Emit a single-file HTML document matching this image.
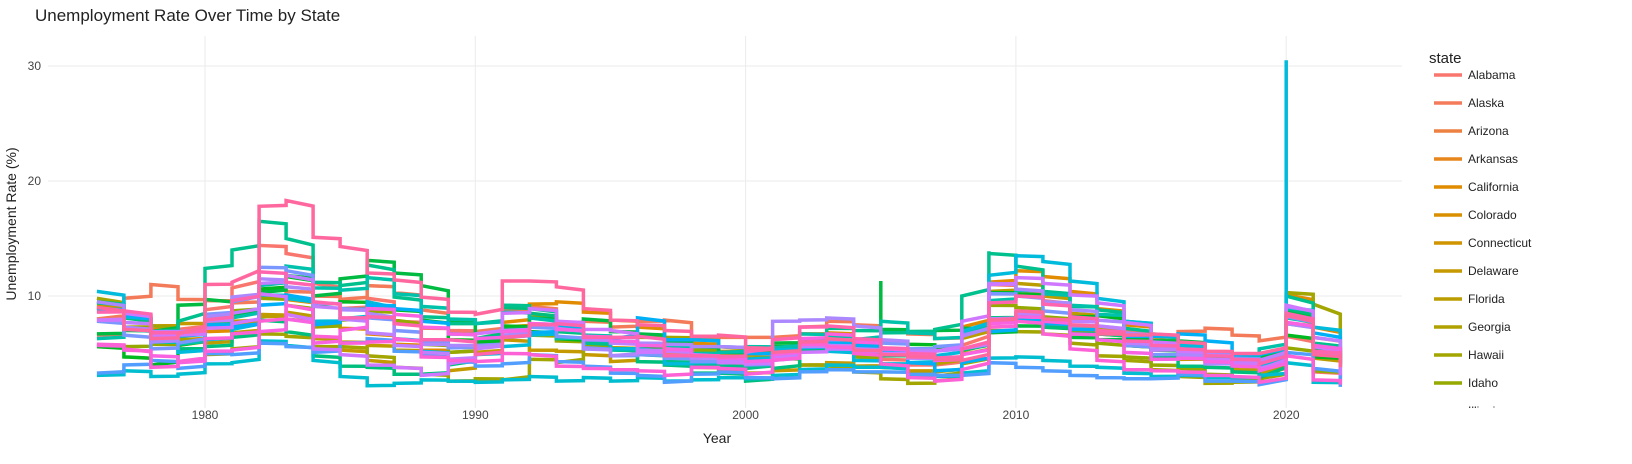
<!DOCTYPE html>
<html><head><meta charset="utf-8"><style>
body{margin:0;background:#fff;font-family:"Liberation Sans",sans-serif;}
#wrap{position:relative;width:1632px;height:464px;overflow:hidden;}
svg{position:absolute;left:0;top:0;}
</style></head><body>
<div id="wrap">
<svg id="chart" width="1632" height="464"></svg>
</div>
<script>
const states = ["Alabama","Alaska","Arizona","Arkansas","California","Colorado","Connecticut","Delaware","Florida","Georgia","Hawaii","Idaho","Illinois","Indiana","Iowa","Kansas","Kentucky","Louisiana","Maine","Maryland","Massachusetts","Michigan","Minnesota","Mississippi","Missouri","Montana","Nebraska","Nevada","New Hampshire","New Jersey","New Mexico","New York","North Carolina","North Dakota","Ohio","Oklahoma","Oregon","Pennsylvania","Rhode Island","South Carolina","South Dakota","Tennessee","Texas","Utah","Vermont","Virginia","Washington","West Virginia","Wisconsin","Wyoming"];
const startYear = 1976;
const xTicks = [1980,1990,2000,2010,2020];
const yTicks = [10,20,30];
const seriesNames = ["Alabama","Alaska","California","Delaware","Florida","Hawaii","Idaho","Kentucky","Louisiana","Massachusetts","Michigan","Mississippi","Nebraska","Nevada","New Mexico","North Dakota","Ohio","Oregon","Pennsylvania","Rhode Island","Texas","Utah","Washington","West Virginia"];
const vAlabama=[6.6,7.2,6.3,7.1,8.8,10.7,14.4,13.7,11.1,8.9,9.8,7.8,7.2,7.0,6.8,7.2,7.3,7.5,6.0,5.5,5.1,5.0,4.4,4.8,4.6,5.1,5.9,6.0,5.7,4.5,4.0,4.0,5.7,11.0,10.5,9.6,8.0,7.2,6.8,6.1,5.8,4.4,3.9,3.2,6.5,3.4,2.6];
const vAlaska=[8.0,9.8,11.0,9.7,9.6,9.4,9.9,10.4,10.0,9.7,10.9,10.3,8.8,6.7,6.9,8.7,9.1,7.7,7.8,7.3,7.8,7.9,6.4,6.4,6.4,6.4,7.3,7.8,7.5,6.9,6.7,6.3,6.7,7.7,7.9,7.6,7.1,6.9,6.9,6.5,6.9,7.2,6.6,6.1,8.3,6.4,4.2];
const vCalifornia=[9.2,8.2,7.1,6.2,6.9,7.4,9.9,9.7,7.8,7.2,6.7,5.8,5.3,5.1,5.8,7.7,9.3,9.5,8.6,7.9,7.3,6.3,5.9,5.2,4.9,5.4,6.7,6.8,6.2,5.4,4.9,5.4,7.3,11.2,12.2,11.7,10.4,8.9,7.5,6.2,5.5,4.8,4.3,4.1,10.1,7.3,4.2];
const vDelaware=[8.7,8.4,7.4,7.6,7.7,7.8,8.4,8.0,6.4,5.3,4.4,3.2,3.2,3.5,5.1,6.2,5.3,5.2,4.9,4.3,5.0,4.0,3.8,3.5,3.3,3.5,4.0,4.2,3.9,4.1,3.5,3.4,4.9,8.0,8.4,7.5,7.2,6.7,5.7,4.8,4.5,4.6,3.9,3.8,7.6,5.4,4.5];
const vFlorida=[9.0,8.2,6.6,6.0,5.9,6.8,8.2,8.6,6.3,6.0,5.7,5.3,5.0,5.6,5.9,7.3,8.2,7.0,6.6,5.5,5.1,4.8,4.3,3.9,3.8,4.7,5.7,5.3,4.8,3.8,3.2,4.1,6.3,10.4,11.1,10.0,8.5,7.3,6.4,5.5,4.9,4.2,3.6,3.2,8.2,4.6,2.9];
const vHawaii=[9.8,7.3,7.4,6.3,4.9,5.4,6.7,6.5,5.6,5.6,4.8,3.8,3.2,2.6,2.8,2.7,4.5,4.2,6.1,5.9,6.4,6.4,6.2,5.6,4.3,4.6,4.0,3.9,3.4,2.8,2.4,2.6,4.1,7.0,6.9,6.7,5.9,4.8,4.4,3.6,3.0,2.4,2.5,2.7,10.3,9.3,3.5];
const vIdaho=[5.7,5.6,5.8,5.7,7.9,8.7,9.8,9.2,7.3,7.9,8.7,7.9,5.8,5.1,5.9,6.6,6.6,6.1,5.6,5.4,5.2,5.3,5.3,5.1,4.6,4.9,5.7,5.4,4.7,3.8,3.2,3.0,5.2,9.2,9.0,8.2,7.0,5.9,4.7,4.0,3.7,3.2,2.8,2.8,5.5,3.5,2.7];
const vKentucky=[5.6,4.7,4.0,5.7,8.1,8.5,10.6,11.7,9.3,9.5,9.2,8.8,7.9,6.2,5.9,7.4,6.9,6.3,5.4,5.4,5.6,5.4,4.6,4.5,4.2,5.6,5.7,6.2,5.3,6.1,5.8,5.5,6.6,10.3,10.2,9.5,8.2,8.3,6.4,5.3,4.9,4.9,4.3,4.2,6.6,4.7,3.9];
const vLouisiana=[6.7,7.0,6.9,9.2,9.7,8.3,10.3,11.8,10.0,11.5,13.1,12.0,10.9,7.9,6.2,7.1,8.1,7.4,8.0,6.9,6.7,6.1,5.6,5.1,5.0,5.9,6.1,6.6,5.7,7.1,6.9,7.0,7.2,6.8,7.4,7.3,6.4,6.2,6.3,6.1,6.1,5.1,4.9,4.6,8.7,5.5,3.7];
const vMassachusetts=[9.5,8.1,6.1,5.4,5.6,6.4,7.9,6.9,4.8,3.9,3.8,3.2,3.2,4.0,6.3,9.0,8.5,6.9,6.0,5.4,4.3,4.0,3.3,3.3,2.6,3.7,5.3,5.8,5.2,4.8,4.8,4.5,5.3,8.1,8.3,7.3,6.7,6.7,5.7,4.8,3.9,3.8,3.4,2.9,8.9,5.7,3.7];
const vMichigan=[9.4,8.2,6.9,7.8,12.4,14.0,16.5,15.0,11.2,10.9,12.7,9.9,8.2,7.6,7.6,9.2,8.9,7.0,5.9,5.3,4.9,4.3,4.0,3.9,3.7,5.2,6.2,7.2,7.0,6.8,6.9,7.1,10.0,13.7,12.6,10.4,9.1,8.8,7.2,5.4,5.0,4.6,4.1,4.1,10.0,5.9,4.2];
const vMississippi=[6.3,7.1,6.0,5.8,7.5,8.1,10.9,12.6,10.7,10.5,11.6,10.2,9.1,8.0,7.6,8.6,8.1,6.3,6.6,6.1,5.7,5.7,5.0,5.1,5.6,5.5,6.7,6.4,6.2,7.8,6.8,6.3,6.9,9.6,10.5,10.2,9.2,8.4,7.8,6.5,5.8,5.1,4.7,5.4,8.1,5.7,4.0];
const vNebraska=[3.1,3.5,3.0,3.2,4.1,4.2,6.1,5.7,4.4,3.0,2.2,2.4,2.7,2.6,2.5,2.7,3.0,2.6,2.9,2.6,2.9,2.6,2.7,2.9,2.8,3.1,3.6,4.0,3.8,3.8,3.0,3.0,3.3,4.6,4.7,4.4,3.9,3.8,3.3,3.0,3.1,2.9,2.9,3.1,4.2,2.5,2.3];
const vNevada=[10.4,8.2,6.9,5.1,6.2,7.1,10.1,9.8,7.8,8.0,9.5,6.3,5.2,4.2,4.9,5.6,6.6,7.2,6.2,5.4,5.4,4.1,4.2,4.3,4.5,5.3,5.7,5.2,4.4,4.1,4.2,4.8,6.9,11.8,13.5,13.0,11.3,9.8,7.8,6.7,5.7,4.9,4.5,3.9,9.0,7.3,5.4];
const vNewMexico=[8.9,8.3,6.3,6.5,7.5,7.3,9.2,10.1,7.5,8.8,9.2,8.9,7.8,6.7,6.3,7.0,6.8,7.5,6.3,6.3,8.1,6.2,6.2,5.6,5.0,4.8,5.5,5.9,5.7,5.2,4.2,3.5,4.2,6.9,7.9,7.6,7.1,6.9,6.5,6.5,6.7,6.1,4.9,4.9,8.2,6.8,4.2];
const vNorthDakota=[3.3,4.0,4.4,3.7,5.0,4.9,5.9,5.6,5.1,5.9,6.3,5.2,4.8,4.3,3.9,4.1,4.9,4.3,3.9,3.3,3.1,2.5,3.2,3.4,2.9,2.8,3.4,3.6,3.4,3.4,3.2,3.1,3.1,4.2,3.8,3.5,3.1,2.9,2.8,2.8,3.2,2.6,2.6,2.3,5.1,3.7,2.1];
const vOhio=[7.8,6.6,5.4,5.9,8.4,9.5,12.5,12.2,9.4,8.9,8.1,7.0,6.0,5.5,5.7,6.4,7.3,6.5,5.5,4.8,4.9,4.6,4.3,4.3,4.0,4.4,5.7,6.2,6.1,5.9,5.4,5.6,6.6,10.2,10.0,8.7,7.4,7.4,5.7,4.9,5.0,5.0,4.6,4.2,8.2,5.1,4.0];
const vOregon=[9.5,7.3,6.0,6.7,8.2,9.9,11.5,10.8,9.4,8.8,8.5,6.2,5.8,5.7,5.6,6.6,7.5,7.2,5.4,4.8,5.9,5.8,5.6,5.6,5.1,7.8,7.9,8.1,7.4,6.2,5.3,5.2,6.5,11.1,10.6,9.5,8.8,7.9,6.8,5.6,4.9,4.1,4.1,3.7,7.6,5.2,4.2];
const vPennsylvania=[7.9,7.7,6.9,6.9,7.8,8.5,11.1,11.8,9.1,8.0,6.8,5.7,5.1,4.5,5.4,7.0,7.6,7.1,6.2,5.9,5.3,5.2,4.6,4.4,4.1,4.7,5.6,5.7,5.4,5.0,4.6,4.4,5.4,8.0,8.5,7.9,7.8,7.4,5.9,5.3,5.4,4.9,4.3,4.4,9.1,6.4,4.4];
const vRhodeIsland=[7.9,8.5,6.6,6.6,7.2,7.6,10.2,8.4,5.4,4.9,4.0,3.8,3.1,4.1,6.7,8.5,8.9,7.8,7.1,7.0,5.1,5.3,4.9,4.2,4.1,4.6,5.1,5.4,5.2,5.0,5.1,5.2,7.8,11.0,11.6,11.1,10.1,9.4,7.7,6.0,5.2,4.5,4.1,3.6,9.2,5.6,3.1];
const vTexas=[5.7,5.3,4.8,4.2,5.2,5.3,6.9,8.0,5.9,7.0,8.9,8.4,7.3,6.7,6.3,6.9,7.6,7.1,6.5,6.1,5.7,5.4,4.8,4.6,4.3,4.9,6.3,6.7,6.0,5.4,4.9,4.4,4.9,7.6,8.2,7.8,6.7,6.2,5.1,4.5,4.6,4.3,3.9,3.5,7.7,5.7,3.9];
const vUtah=[5.8,5.4,3.8,4.3,6.3,6.7,7.8,9.2,6.5,5.9,6.0,6.3,4.7,4.4,4.3,5.0,4.9,3.9,3.7,3.6,3.5,3.1,3.8,3.7,3.2,4.4,5.8,5.6,5.0,4.1,2.9,2.6,3.6,7.3,7.8,6.7,5.4,4.4,3.6,3.5,3.4,3.1,3.0,2.5,4.8,2.7,2.3];
const vWashington=[8.6,8.7,6.8,6.8,7.9,9.6,12.1,11.2,9.5,8.1,8.2,7.6,6.2,6.2,4.9,6.4,7.5,7.6,6.4,6.4,6.5,4.8,4.8,4.7,5.2,6.2,7.3,7.4,6.3,5.5,5.0,4.6,5.4,9.4,10.0,9.3,8.2,7.0,6.1,5.7,5.4,4.8,4.5,4.1,8.5,5.2,4.2];
const vWestVirginia=[9.0,7.1,6.3,6.7,11.0,11.2,17.8,18.3,15.1,14.3,12.0,11.4,9.9,8.6,8.4,11.3,11.3,10.8,8.9,7.9,7.5,7.0,6.5,6.6,5.5,5.1,6.0,6.3,5.3,4.9,4.7,4.5,4.4,7.9,8.7,8.0,7.5,6.7,6.6,6.7,6.0,5.2,5.0,5.0,8.3,4.9,3.8];
const seriesValues = [vAlabama,vAlaska,vCalifornia,vDelaware,vFlorida,vHawaii,vIdaho,vKentucky,vLouisiana,vMassachusetts,vMichigan,vMississippi,vNebraska,vNevada,vNewMexico,vNorthDakota,vOhio,vOregon,vPennsylvania,vRhodeIsland,vTexas,vUtah,vWashington,vWestVirginia];
const spikeStates = ["Nevada","Louisiana","Michigan"];
const spikeYears = [2020,2005,2009];
const spikePeaks = [30.5,11.3,13.9];

const NS="http://www.w3.org/2000/svg";
const svg=document.getElementById('chart');
function X(yr){return 205+(yr-1980)*27.03;}
function Y(v){return 411-v*11.5;}
function hueColor(i){
  const h=(15+360*i/50)*Math.PI/180,L=65,C=100;
  const u=C*Math.cos(h),v=C*Math.sin(h);
  const Yc=Math.pow((L+16)/116,3);
  const un=0.19784,vn=0.46834;
  const up=u/(13*L)+un,vp=v/(13*L)+vn;
  const Xc=Yc*9*up/(4*vp),Zc=Yc*(12-3*up-20*vp)/(4*vp);
  let r=3.2406*Xc-1.5372*Yc-0.4986*Zc,g=-0.9689*Xc+1.8758*Yc+0.0415*Zc,bb=0.0557*Xc-0.2040*Yc+1.0570*Zc;
  const gm=c=>{c=Math.max(0,c);c=c<=0.0031308?12.92*c:1.055*Math.pow(c,1/2.4)-0.055;return Math.round(Math.max(0,Math.min(1,c))*255);};
  return `rgb(${gm(r)},${gm(g)},${gm(bb)})`;
}
function mk(tag,attrs,parent){const e=document.createElementNS(NS,tag);for(const k in attrs)e.setAttribute(k,attrs[k]);(parent||svg).appendChild(e);return e;}

const grid=mk('g',{});


xTicks.forEach(t=>{
  const l=mk('line',{x1:X(t),x2:X(t),y1:36,y2:408,stroke:'#ebebeb','stroke-width':1},grid);
  
  
  const tx=mk('text',{x:X(t),y:419,'text-anchor':'middle','font-size':12,fill:'#444'});
  tx.textContent=t;
  
  
});
yTicks.forEach(t=>{
  const l=mk('line',{x1:48,x2:1402,y1:Y(t),y2:Y(t),stroke:'#ebebeb','stroke-width':1},grid);
  
  
  const tx=mk('text',{x:41,y:Y(t)+4,'text-anchor':'end','font-size':12,fill:'#444'});
  tx.textContent=t;
  
  
});

const order=seriesNames.map((n,i)=>i).sort((a,b)=>states.indexOf(seriesNames[a])-states.indexOf(seriesNames[b]));
order.forEach(si=>{
  const name=seriesNames[si],vals=seriesValues[si];
  const col=hueColor(states.indexOf(name));
  const sp=spikeStates.indexOf(name);
  let d='';
  vals.forEach((v,i)=>{
    const yr=startYear+i;
    if(sp>=0 && spikeYears[sp]===yr){d+=(d?'L':'M')+X(yr).toFixed(1)+','+Y(spikePeaks[sp]).toFixed(1);}
    d+=(d?'L':'M')+X(yr).toFixed(1)+','+Y(v).toFixed(1);
    if(i<vals.length-1){
      const nv=vals[i+1];
      d+='L'+X(yr+1).toFixed(1)+','+Y(v+(nv-v)*0.15).toFixed(1);
    }
  });
  const p=mk('path',{d:d,fill:'none',stroke:col,'stroke-width':3.5,'stroke-linejoin':'miter'});
  
  
});

const t1=mk('text',{x:35,y:21,'font-size':17,fill:'#222'});t1.textContent='Unemployment Rate Over Time by State';


const t2=mk('text',{x:717,y:443,'font-size':14,fill:'#222','text-anchor':'middle'});t2.textContent='Year';


const t3=mk('text',{x:0,y:0,'font-size':14,fill:'#222','text-anchor':'middle',transform:'translate(16,224) rotate(-90)'});t3.textContent='Unemployment Rate (%)';



const defs=mk('defs',{});const cp=mk('clipPath',{id:'lgclip'},defs);mk('rect',{x:1400,y:40,width:232,height:368},cp);
const lg=mk('g',{'clip-path':'url(#lgclip)'});


const lt=mk('text',{x:1429,y:63,'font-size':15,fill:'#222'});lt.textContent='state';


states.forEach((s,i)=>{
  const y=75+i*28;
  if(y>430)return;
  const g=mk('g',{},lg);
  
  
  mk('line',{x1:1434,x2:1462,y1:y,y2:y,stroke:hueColor(i),'stroke-width':3.5},g);
  const tx=mk('text',{x:1468,y:y+4,'font-size':12,fill:'#222'},g);tx.textContent=s;
});
</script>
</body></html>
